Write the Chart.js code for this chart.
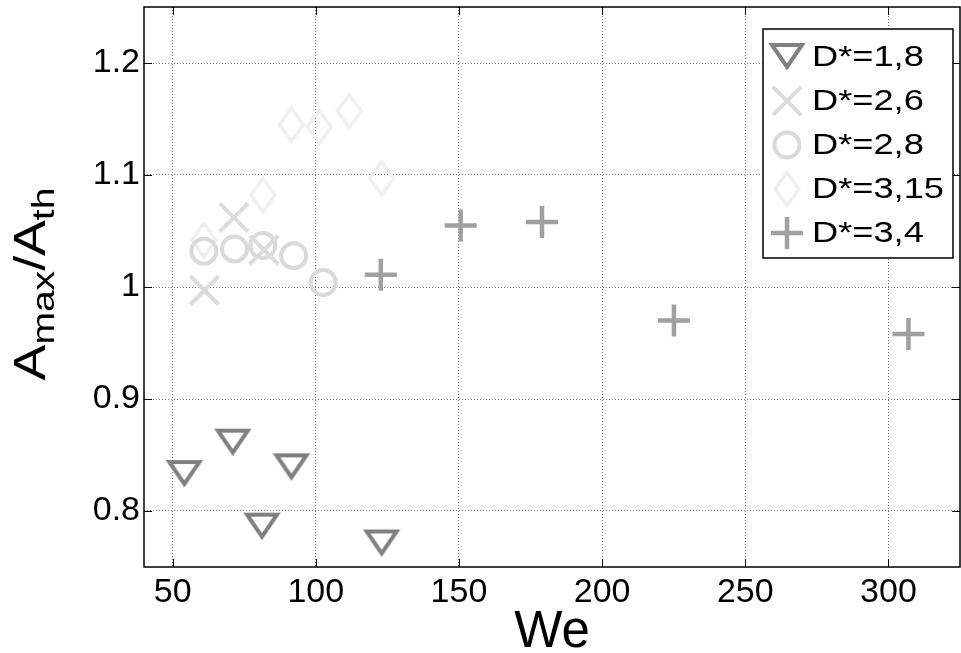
<!DOCTYPE html>
<html>
<head>
<meta charset="utf-8">
<script src="https://cdn.jsdelivr.net/npm/chart.js@4.4.0/dist/chart.umd.min.js"></script>
<style>
  body { margin: 0; background: #fff; }
</style>
</head>
<body>
<canvas id="chart" width="961" height="653"></canvas>
<script>
// data
const seriesLabels = ['D*=1,8', 'D*=2,6', 'D*=2,8', 'D*=3,15', 'D*=3,4'];

const we18 = [54.1, 71.0, 81.2, 91.5, 123.0];
const amp18 = [0.833, 0.861, 0.786, 0.839, 0.771];

const we26 = [61.1, 71.4, 81.9];
const amp26 = [0.997, 1.062, 1.033];

const we28 = [60.9, 71.6, 81.5, 92.3, 102.6];
const amp28 = [1.032, 1.034, 1.037, 1.028, 1.004];

const we315 = [60.9, 81.5, 91.5, 101.2, 111.7, 123.0];
const amp315 = [1.042, 1.082, 1.145, 1.143, 1.157, 1.097];

const we34 = [122.7, 150.6, 179.0, 225.1, 307.0];
const amp34 = [1.011, 1.055, 1.058, 0.970, 0.958];

const xTicks = [50, 100, 150, 200, 250, 300];
const yTicks = [0.8, 0.9, 1, 1.1, 1.2];

const FONT = '"Liberation Sans", Arial, Helvetica, sans-serif';

function toPoints(xs, ys) {
    return xs.map((x, i) => ({ x: x, y: ys[i] }));
}

// matlab-like markers that chart.js doesn't have
function makeTriangle(color) {
    const c = document.createElement('canvas');
    c.width = 40; c.height = 40;
    const g = c.getContext('2d');
    g.strokeStyle = color;
    g.lineWidth = 4;
    g.beginPath();
    g.moveTo(5, 8);
    g.lineTo(35, 8);
    g.lineTo(20, 30);
    g.closePath();
    g.stroke();
    return c;
}

function makeDiamond(color) {
    const c = document.createElement('canvas');
    c.width = 40; c.height = 48;
    const g = c.getContext('2d');
    g.strokeStyle = color;
    g.lineWidth = 3.5;
    g.beginPath();
    g.moveTo(20, 7.5);
    g.lineTo(32, 24);
    g.lineTo(20, 40.5);
    g.lineTo(8, 24);
    g.closePath();
    g.stroke();
    return c;
}

const boxPlugin = {
    id: 'box',
    afterDraw(chart) {
        const ctx = chart.ctx;
        const a = chart.chartArea;
        const xs = chart.scales.x, ys = chart.scales.y;
        ctx.save();
        ctx.strokeStyle = '#000';
        ctx.lineWidth = 1.5;
        ctx.strokeRect(a.left, a.top, a.right - a.left, a.bottom - a.top);
        ctx.lineWidth = 1;
        ctx.beginPath();
        xs.ticks.forEach(t => {
            const px = Math.round(xs.getPixelForValue(t.value)) + 0.5;
            ctx.moveTo(px, a.bottom); ctx.lineTo(px, a.bottom - 8);
            ctx.moveTo(px, a.top); ctx.lineTo(px, a.top + 8);
        });
        ys.ticks.forEach(t => {
            const py = Math.round(ys.getPixelForValue(t.value)) + 0.5;
            ctx.moveTo(a.left, py); ctx.lineTo(a.left + 8, py);
            ctx.moveTo(a.right, py); ctx.lineTo(a.right - 8, py);
        });
        ctx.stroke();

        // y title with subscripts
        const parts = [['A', 44, 0], ['max', 32, 9], ['/A', 44, 0], ['th', 32, 9]];
        ctx.translate(45, 284);
        ctx.rotate(-Math.PI / 2);
        ctx.scale(1.22, 1);
        let total = 0;
        parts.forEach(p => {
            ctx.font = p[1] + 'px ' + FONT;
            total += ctx.measureText(p[0]).width;
        });
        let x = -total / 2;
        ctx.fillStyle = '#000';
        ctx.textBaseline = 'alphabetic';
        parts.forEach(p => {
            ctx.font = p[1] + 'px ' + FONT;
            ctx.fillText(p[0], x, p[2]);
            x += ctx.measureText(p[0]).width;
        });
        ctx.restore();
    }
};

const legendPlugin = {
    id: 'boxLegend',
    afterDraw(chart) {
        const ctx = chart.ctx;
        const left = 763, top = 29, w = 190, h = 229;
        ctx.save();
        ctx.fillStyle = '#fff';
        ctx.fillRect(left, top, w, h);
        ctx.strokeStyle = '#000';
        ctx.lineWidth = 1.5;
        ctx.strokeRect(left, top, w, h);
        chart.data.datasets.forEach((ds, i) => {
            const y = top + 28 + i * 44;
            ctx.strokeStyle = ds.pointBorderColor;
            ctx.fillStyle = 'rgba(0,0,0,0)';
            ctx.lineWidth = ds.pointBorderWidth;
            Chart.helpers.drawPoint(ctx, {
                pointStyle: ds.pointStyle,
                radius: ds.pointRadius,
                rotation: 0,
                borderWidth: ds.pointBorderWidth
            }, left + 24, y);
            ctx.save();
            ctx.fillStyle = '#000';
            ctx.font = '29px ' + FONT;
            ctx.textBaseline = 'middle';
            ctx.translate(left + 49, y + 1);
            ctx.scale(1.25, 1);
            ctx.fillText(ds.label, 0, 0);
            ctx.restore();
        });
        ctx.restore();
    }
};

document.addEventListener("DOMContentLoaded", function() {
    const ctx = document.getElementById("chart").getContext("2d");

    const gridStyle = { color: 'rgba(0,0,0,0.55)', lineWidth: 1, drawTicks: false };
    const borderStyle = { display: false, dash: [1, 2] };

    const chart = new Chart(ctx, {
        type: 'scatter',
        data: {
            datasets: [{
                label: seriesLabels[0],
                data: toPoints(we18, amp18),
                pointStyle: makeTriangle('#808080'),
                pointRadius: 18,
                pointBorderWidth: 4,
                pointBorderColor: '#808080',
                pointBackgroundColor: 'rgba(0,0,0,0)'
            }, {
                label: seriesLabels[1],
                data: toPoints(we26, amp26),
                pointStyle: 'crossRot',
                pointRadius: 20,
                pointBorderWidth: 4,
                pointBorderColor: '#dcdcdc',
                pointBackgroundColor: 'rgba(0,0,0,0)'
            }, {
                label: seriesLabels[2],
                data: toPoints(we28, amp28),
                pointStyle: 'circle',
                pointRadius: 12.5,
                pointBorderWidth: 4,
                pointBorderColor: '#dadada',
                pointBackgroundColor: 'rgba(0,0,0,0)'
            }, {
                label: seriesLabels[3],
                data: toPoints(we315, amp315),
                pointStyle: makeDiamond('#efefef'),
                pointRadius: 18,
                pointBorderWidth: 3.5,
                pointBorderColor: '#efefef',
                pointBackgroundColor: 'rgba(0,0,0,0)'
            }, {
                label: seriesLabels[4],
                data: toPoints(we34, amp34),
                pointStyle: 'cross',
                pointRadius: 16,
                pointBorderWidth: 4.5,
                pointBorderColor: '#a0a0a0',
                pointBackgroundColor: 'rgba(0,0,0,0)'
            }]
        },
        options: {
            responsive: false,
            animation: false,
            devicePixelRatio: 1,
            layout: { autoPadding: false, padding: { left: 0, right: 1, top: 7, bottom: 0 } },
            plugins: {
                legend: { display: false },
                tooltip: { enabled: false }
            },
            scales: {
                x: {
                    type: 'linear',
                    min: 40,
                    max: 325,
                    afterBuildTicks: s => { s.ticks = xTicks.map(v => ({ value: v })); },
                    afterFit: s => {
                        s.height = 86;
                        s.paddingLeft = 0; s.paddingRight = 0;
                    },
                    grid: gridStyle,
                    border: borderStyle,
                    ticks: {
                        color: '#000',
                        font: { family: FONT, size: 34 },
                        padding: 5,
                        maxRotation: 0,
                        autoSkip: false,
                        callback: v => String(v)
                    },
                    title: {
                        display: true,
                        text: 'We',
                        color: '#000',
                        font: { family: FONT, size: 51, lineHeight: 0.8 },
                        padding: { top: 0, bottom: 0 }
                    }
                },
                y: {
                    type: 'linear',
                    min: 0.75,
                    max: 1.25,
                    afterBuildTicks: s => { s.ticks = yTicks.map(v => ({ value: v })); },
                    afterFit: s => {
                        s.width = 144;
                        s.paddingTop = 0; s.paddingBottom = 0;
                    },
                    grid: gridStyle,
                    border: borderStyle,
                    ticks: {
                        color: '#000',
                        font: { family: FONT, size: 34 },
                        padding: 4,
                        autoSkip: false,
                        callback: v => String(v)
                    }
                }
            }
        },
        plugins: [boxPlugin, legendPlugin]
    });
});
</script>
</body>
</html>
